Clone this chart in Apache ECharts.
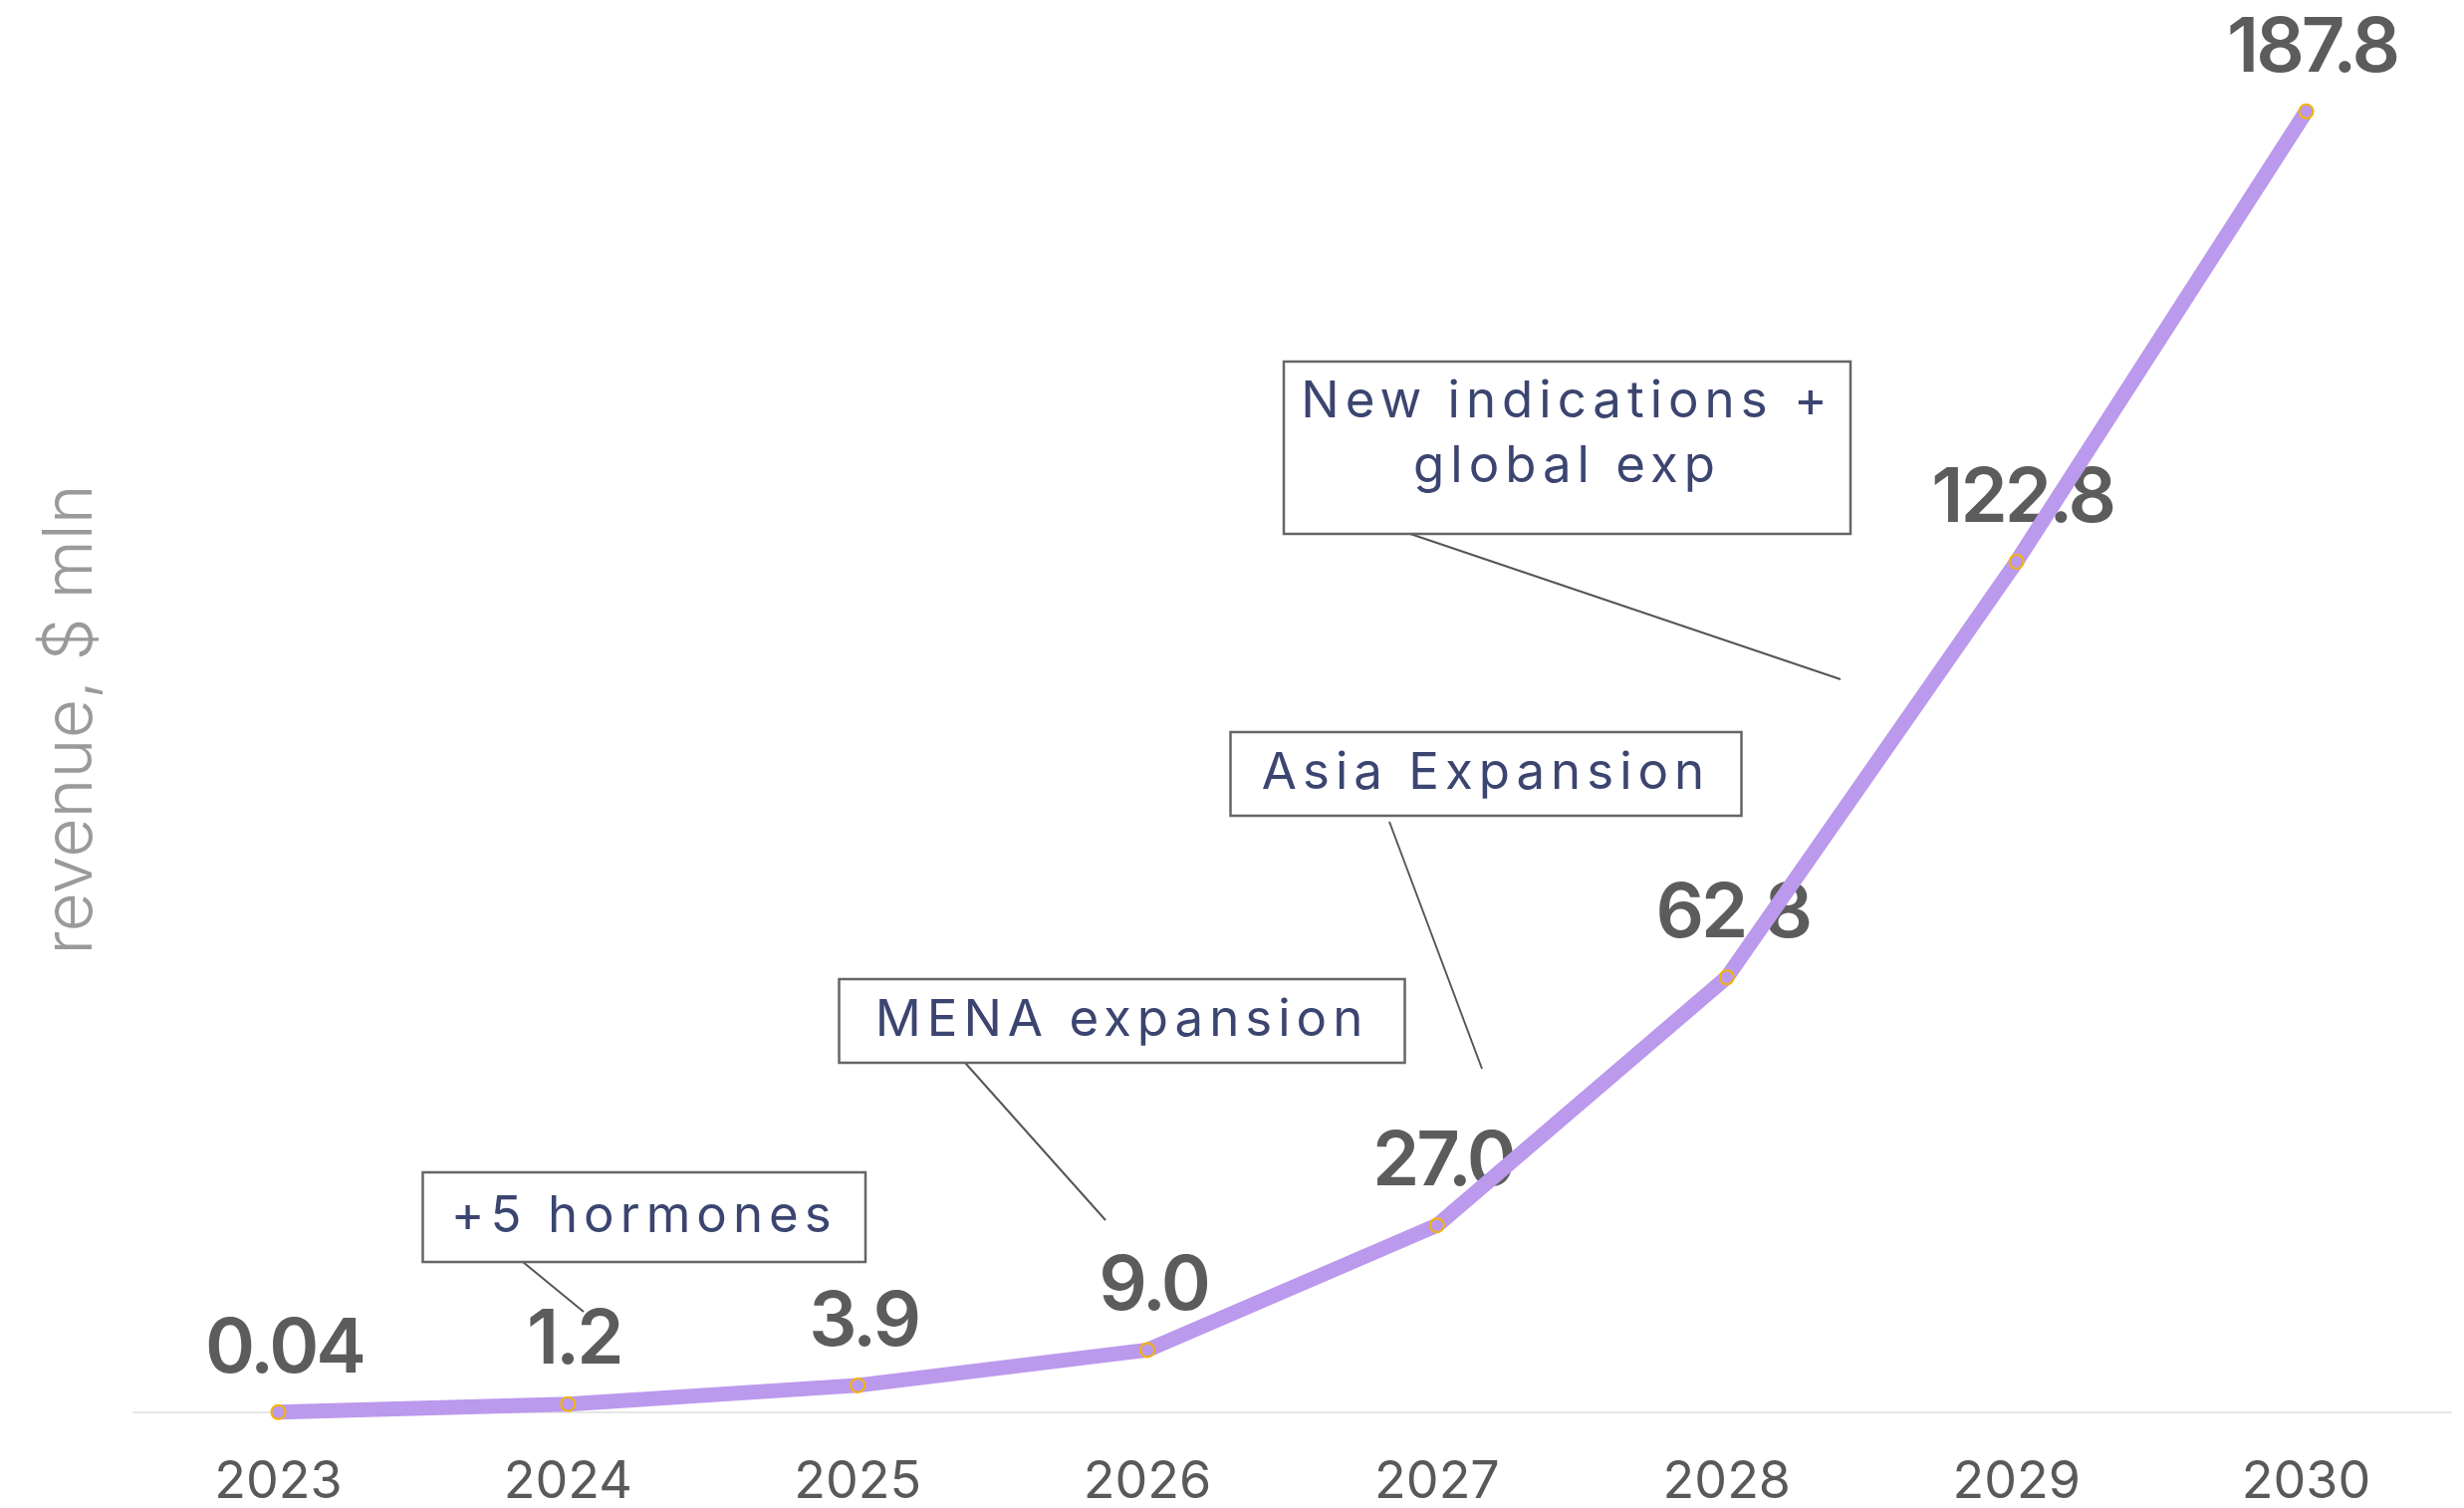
<!DOCTYPE html>
<html>
<head>
<meta charset="utf-8">
<script src="https://cdn.jsdelivr.net/npm/echarts@6/dist/echarts.min.js"></script>
<style>
html,body{margin:0;padding:0;background:#fff;}
#chart{width:2474px;height:1514px;}
</style>
</head>
<body>
<div id="chart"></div>
<script>
// ---- data ----
const categories = ['2023', '2024', '2025', '2026', '2027', '2028', '2029', '2030'];
const revenue = [0.04, 1.2, 3.9, 9.0, 27.0, 62.8, 122.8, 187.8];
const axisName = 'revenue, $ mln';
const annotationTexts = ['+5 hormones', 'MENA expansion', 'Asia Expansion', 'New indications +\nglobal exp'];

// ---- annotation layout (pixels) ----
const annotationLayout = [
  {box: [424.5, 1177, 444.5, 90], textY: 1222, lead: [525, 1267, 586, 1317]},
  {box: [842.5, 983, 568, 84], textY: 1025, lead: [969, 1067, 1110, 1225]},
  {box: [1235.5, 735, 513, 84], textY: 777, lead: [1395, 825, 1488, 1073]},
  {box: [1289, 363, 569, 173], textY: 436, lead: [1416, 536, 1848, 682]}
];

const ANNOT_COLOR = '#3b4570';
const LABEL_COLOR = '#5c5c5c';

// letter spacing for canvas text keyed by colour
(function () {
  const spacing = {};
  spacing[ANNOT_COLOR] = '6px';
  spacing[LABEL_COLOR] = '-3px';
  const proto = CanvasRenderingContext2D.prototype;
  const orig = proto.fillText;
  proto.fillText = function (t, x, y, w) {
    const s = spacing[String(this.fillStyle).toLowerCase()];
    if (s && 'letterSpacing' in this) {
      const prev = this.letterSpacing;
      this.letterSpacing = s;
      const r = w === undefined ? orig.call(this, t, x, y) : orig.call(this, t, x, y, w);
      this.letterSpacing = prev;
      return r;
    }
    return w === undefined ? orig.call(this, t, x, y) : orig.call(this, t, x, y, w);
  };
})();

const graphics = [];
annotationLayout.forEach(function (a, i) {
  graphics.push({
    type: 'line', silent: true, z: 50,
    shape: {x1: a.lead[0], y1: a.lead[1], x2: a.lead[2], y2: a.lead[3]},
    style: {stroke: '#555555', lineWidth: 2}
  });
  graphics.push({
    type: 'rect', silent: true, z: 50,
    shape: {x: a.box[0], y: a.box[1], width: a.box[2], height: a.box[3]},
    style: {fill: '#ffffff', stroke: '#666666', lineWidth: 2.5}
  });
  graphics.push({
    type: 'text', silent: true, z: 51,
    x: a.box[0] + a.box[2] / 2, y: a.textY,
    style: {
      text: annotationTexts[i],
      fill: ANNOT_COLOR,
      font: '400 51px Inter',
      align: 'center', verticalAlign: 'middle',
      textAlign: 'center', textVerticalAlign: 'middle',
      lineHeight: 65
    }
  });
});

const chart = echarts.init(document.getElementById('chart'), null, {renderer: 'canvas'});
chart.setOption({
  animation: false,
  backgroundColor: '#ffffff',
  grid: {left: 134, right: 13, top: 27, bottom: 92.4, containLabel: false},
  xAxis: {
    type: 'category',
    data: categories,
    boundaryGap: true,
    axisLine: {show: true, lineStyle: {color: '#e6e6e6', width: 2}},
    axisTick: {show: false},
    splitLine: {show: false},
    axisLabel: {color: '#595959', fontSize: 52, fontFamily: 'Inter', margin: 44}
  },
  yAxis: {
    type: 'value',
    min: 0, max: 200,
    axisLine: {show: false}, axisTick: {show: false},
    axisLabel: {show: false}, splitLine: {show: false},
    name: axisName,
    nameLocation: 'middle',
    nameRotate: 90,
    nameGap: 28,
    nameTextStyle: {color: '#9a9a9a', fontSize: 68, fontFamily: 'Inter', fontWeight: 300}
  },
  series: [
    {
      // labels (drawn beneath the line)
      type: 'line', z: 1, data: revenue,
      symbol: 'circle', symbolSize: 14, showAllSymbol: true, silent: true,
      itemStyle: {color: 'rgba(0,0,0,0)', borderWidth: 0},
      lineStyle: {width: 0, opacity: 0},
      label: {
        show: true, position: 'top', distance: 18, offset: [6, 0],
        color: LABEL_COLOR, fontSize: 76, fontWeight: 600, fontFamily: 'Inter',
        formatter: function (p) { return p.value < 1 ? p.value.toFixed(2) : p.value.toFixed(1); }
      },
      emphasis: {disabled: true}
    },
    {
      type: 'line', z: 3, data: revenue,
      symbol: 'circle', symbolSize: 14, showAllSymbol: true,
      itemStyle: {color: 'rgba(0,0,0,0)', borderColor: '#f5b400', borderWidth: 2},
      lineStyle: {color: '#bb99ec', width: 15, cap: 'round'},
      label: {show: false},
      emphasis: {disabled: true}
    }
  ],
  graphic: graphics
});
</script>
</body>
</html>
